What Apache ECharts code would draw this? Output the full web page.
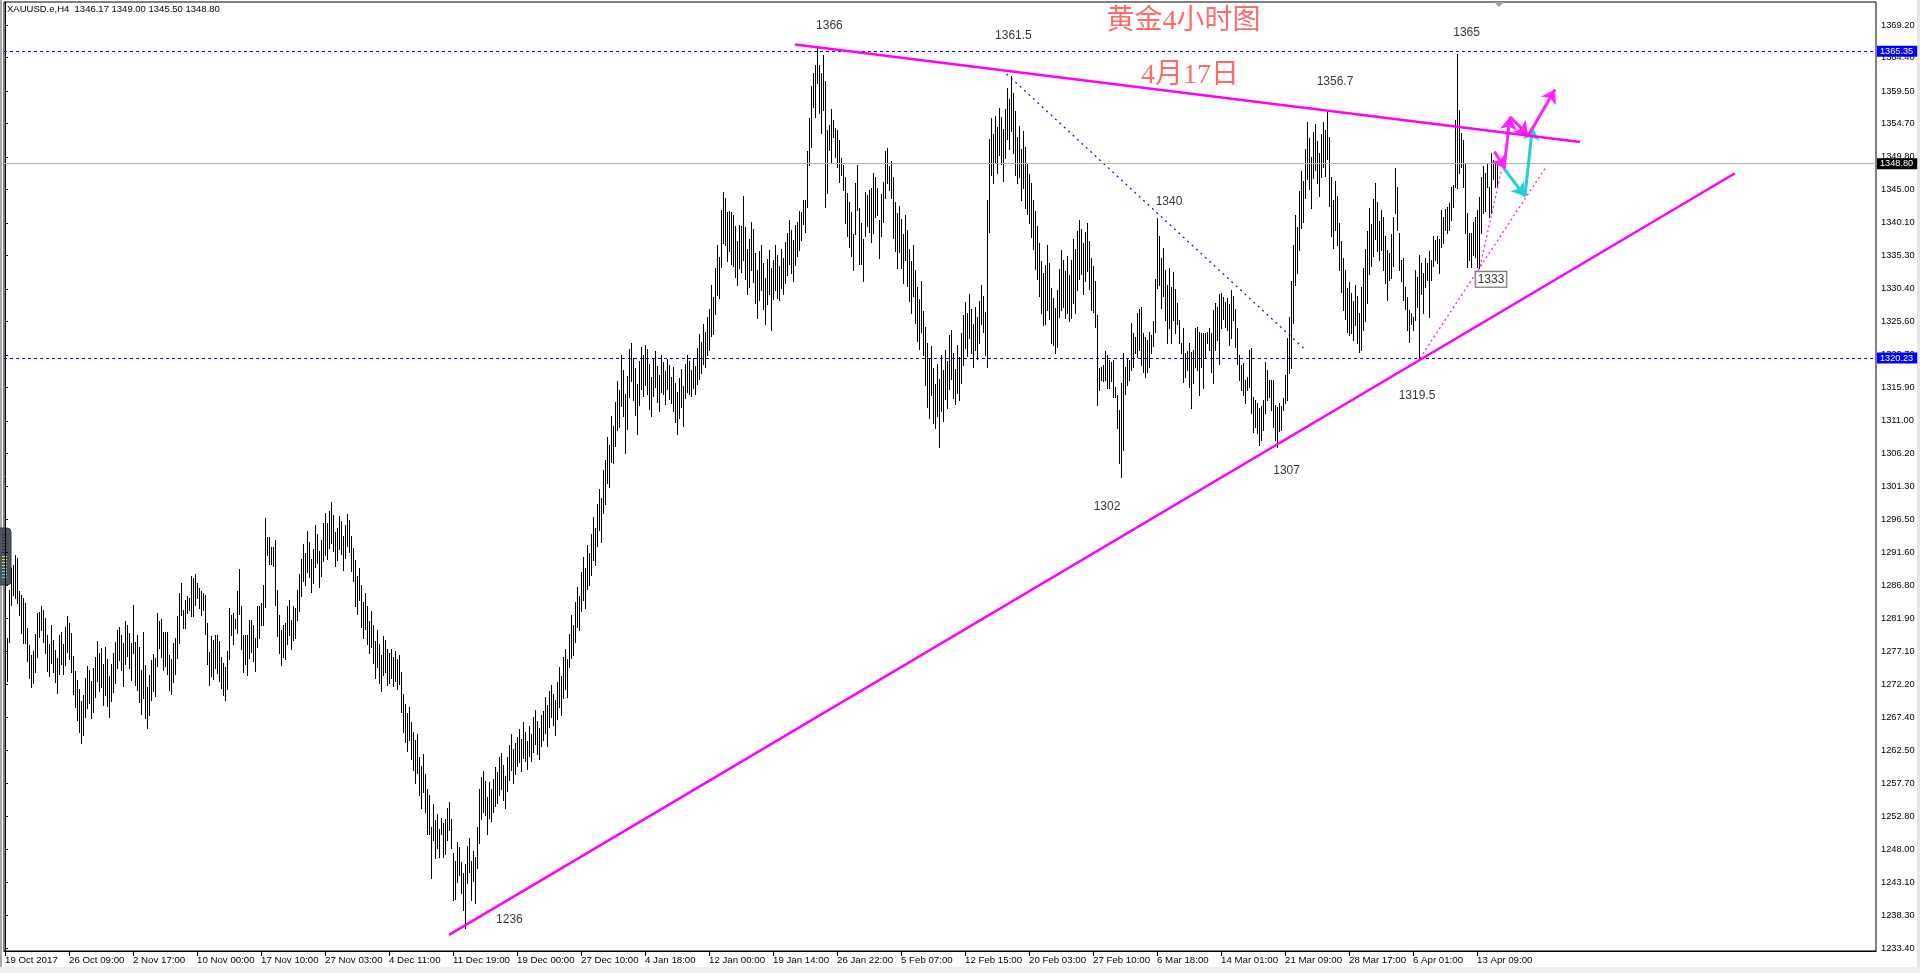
<!DOCTYPE html>
<html><head><meta charset="utf-8">
<script src="https://cdn.jsdelivr.net/npm/echarts@6/dist/echarts.min.js"></script>
<style>html,body{margin:0;padding:0;background:#fff;overflow:hidden}#c{width:1920px;height:973px}</style>
</head><body><div id="c"></div>
<script>
// ---------- axis texts ----------
const dateLabels = ['19 Oct 2017','26 Oct 09:00','2 Nov 17:00','10 Nov 00:00','17 Nov 10:00','27 Nov 03:00','4 Dec 11:00','11 Dec 19:00','19 Dec 00:00','27 Dec 10:00','4 Jan 18:00','12 Jan 00:00','19 Jan 14:00','26 Jan 22:00','5 Feb 07:00','12 Feb 15:00','20 Feb 03:00','27 Feb 10:00','6 Mar 18:00','14 Mar 01:00','21 Mar 09:00','28 Mar 17:00','6 Apr 01:00','13 Apr 09:00'];
const barsPerLabel = 32;
const priceTicks = [1369.20,1364.40,1359.50,1354.70,1349.80,1345.00,1340.10,1335.30,1330.40,1325.60,1320.70,1315.90,1311.00,1306.20,1301.30,1296.50,1291.60,1286.80,1281.90,1277.10,1272.20,1267.40,1262.50,1257.70,1252.80,1248.00,1243.10,1238.30,1233.40];
const lastBar = {open:1346.17, high:1349.00, low:1345.50, close:1348.80};
const levelHigh = 1365.35, levelSupport = 1320.23;

// ---------- H4 bars [high, low], one array per date-label block ----------
const b_19Oct = [[1281.7,1274.5],[1279.1,1272.8],[1286.1,1278.5],[1289.3,1283.9],[1289.8,1285.4],[1291.2,1285.0],[1290.8,1284.2],[1285.9,1282.4],[1285.4,1279.8],[1284.9,1278.3],[1284.2,1278.3],[1280.5,1275.6],[1278.0,1273.1],[1276.5,1271.8],[1277.2,1272.4],[1279.6,1274.0],[1282.7,1276.3],[1282.9,1279.2],[1283.7,1280.2],[1283.2,1278.4],[1282.0,1276.9],[1279.5,1274.2],[1278.1,1273.5],[1281.0,1275.4],[1278.8,1274.1],[1277.3,1272.6],[1276.1,1270.9],[1279.5,1273.8],[1279.9,1275.2],[1278.2,1273.7],[1280.7,1275.1],[1282.3,1277.0]];
const b_26Oct = [[1281.3,1275.9],[1279.8,1274.0],[1276.4,1270.8],[1274.2,1268.9],[1272.9,1267.0],[1271.5,1265.2],[1269.8,1263.6],[1270.6,1264.8],[1273.1,1267.4],[1275.0,1268.8],[1274.4,1269.5],[1272.8,1267.3],[1274.6,1268.1],[1276.2,1270.4],[1278.6,1272.7],[1276.9,1271.3],[1277.6,1271.9],[1275.3,1269.2],[1277.8,1270.6],[1276.0,1269.0],[1273.4,1267.5],[1275.2,1269.8],[1276.8,1271.1],[1278.4,1272.5],[1280.2,1274.6],[1280.7,1275.8],[1279.5,1274.3],[1278.3,1272.0],[1281.5,1275.2],[1281.0,1276.4],[1279.8,1274.7],[1278.3,1272.9]];
const b_2Nov = [[1283.9,1276.8],[1278.5,1272.1],[1279.5,1271.4],[1277.8,1269.6],[1274.3,1267.9],[1280.0,1270.2],[1275.1,1267.3],[1271.9,1265.8],[1273.6,1267.7],[1275.8,1269.9],[1276.7,1271.2],[1276.1,1270.5],[1282.7,1274.9],[1281.5,1277.6],[1281.8,1276.3],[1279.9,1274.4],[1279.9,1275.0],[1279.9,1273.8],[1276.5,1271.4],[1275.9,1270.8],[1278.3,1272.6],[1279.0,1273.7],[1282.3,1276.1],[1285.6,1278.3],[1287.1,1282.4],[1283.2,1280.5],[1284.7,1280.5],[1285.2,1282.7],[1284.9,1283.2],[1288.1,1282.3],[1287.9,1282.3],[1288.4,1283.9]];
const b_10Nov = [[1287.2,1284.9],[1286.4,1283.4],[1285.9,1282.4],[1285.7,1283.2],[1285.4,1279.6],[1281.2,1275.3],[1277.0,1272.1],[1279.3,1273.5],[1278.8,1273.0],[1279.5,1274.6],[1279.5,1273.9],[1278.6,1272.8],[1276.2,1271.7],[1275.4,1270.6],[1274.8,1269.9],[1277.1,1271.5],[1283.4,1276.0],[1282.4,1279.5],[1282.7,1278.1],[1281.9,1280.5],[1285.9,1279.8],[1289.2,1282.6],[1283.7,1277.4],[1279.5,1274.1],[1279.5,1275.2],[1279.5,1273.6],[1281.7,1276.1],[1281.7,1277.0],[1281.0,1275.7],[1279.0,1274.2],[1283.7,1277.8],[1283.7,1279.0]];
const b_17Nov = [[1284.2,1281.0],[1286.9,1281.0],[1296.7,1283.6],[1293.9,1291.3],[1293.9,1290.0],[1292.4,1290.0],[1292.4,1289.6],[1293.5,1283.9],[1286.1,1279.4],[1282.5,1276.8],[1280.2,1275.1],[1281.0,1276.3],[1281.2,1276.0],[1283.7,1278.2],[1284.7,1279.5],[1281.7,1277.5],[1283.7,1278.8],[1283.4,1279.1],[1286.1,1281.7],[1288.4,1283.0],[1290.6,1285.2],[1292.9,1287.4],[1291.5,1286.9],[1294.8,1288.7],[1293.1,1288.0],[1290.7,1285.8],[1292.2,1287.1],[1295.6,1289.5],[1294.3,1290.1],[1291.8,1286.6],[1293.5,1288.2],[1296.0,1290.4]];
const b_27Nov = [[1297.4,1291.2],[1295.9,1290.6],[1297.8,1292.3],[1299.1,1293.0],[1297.2,1291.8],[1294.6,1289.7],[1295.3,1290.5],[1297.0,1292.1],[1296.2,1291.4],[1294.1,1289.0],[1295.7,1290.8],[1297.3,1292.6],[1296.4,1291.7],[1294.0,1288.9],[1292.3,1287.4],[1290.5,1283.8],[1288.2,1282.6],[1289.4,1284.7],[1286.9,1280.6],[1284.3,1279.1],[1285.7,1280.4],[1283.8,1278.2],[1281.6,1276.9],[1283.0,1277.8],[1280.9,1275.4],[1278.6,1273.2],[1280.3,1274.8],[1278.1,1272.5],[1276.5,1271.3],[1279.4,1273.6],[1278.7,1274.0],[1277.4,1272.2]];
const b_4Dec = [[1276.8,1272.4],[1277.5,1273.1],[1276.3,1272.0],[1277.2,1272.8],[1275.9,1271.5],[1276.6,1272.3],[1274.1,1268.2],[1270.8,1265.3],[1269.4,1263.8],[1268.0,1262.5],[1268.9,1264.1],[1266.7,1261.3],[1265.2,1259.6],[1264.1,1257.8],[1264.9,1259.2],[1261.5,1255.9],[1260.3,1254.1],[1262.0,1256.4],[1259.1,1253.5],[1256.8,1250.3],[1255.9,1250.3],[1251.2,1243.8],[1254.6,1249.3],[1252.3,1246.7],[1253.1,1248.2],[1251.0,1246.9],[1252.6,1250.3],[1251.8,1246.9],[1252.4,1247.3],[1254.0,1249.3],[1254.9,1250.8],[1252.5,1248.1]];
const b_11Dec = [[1247.5,1240.5],[1246.2,1240.7],[1249.0,1243.1],[1248.3,1244.2],[1246.1,1241.5],[1244.5,1239.1],[1245.8,1236.4],[1248.4,1243.0],[1249.7,1244.7],[1246.2,1240.5],[1247.8,1243.3],[1246.9,1240.1],[1251.3,1245.2],[1256.8,1248.9],[1258.6,1252.5],[1259.5,1253.4],[1258.0,1253.0],[1255.7,1250.3],[1257.9,1252.6],[1256.9,1252.1],[1258.3,1253.5],[1260.1,1254.4],[1259.3,1254.8],[1261.6,1256.0],[1262.2,1256.9],[1260.4,1255.3],[1258.7,1254.1],[1261.5,1256.6],[1263.3,1258.2],[1264.9,1259.7],[1262.8,1257.7],[1263.6,1259.0]];
const b_19Dec = [[1264.5,1260.2],[1265.7,1260.8],[1264.2,1259.5],[1266.7,1261.4],[1265.3,1261.0],[1263.9,1259.8],[1266.1,1261.7],[1265.0,1260.9],[1267.4,1262.3],[1268.5,1263.5],[1266.9,1262.0],[1265.8,1261.3],[1267.7,1263.2],[1268.3,1264.0],[1270.4,1265.1],[1269.2,1263.1],[1271.3,1265.9],[1272.1,1267.4],[1270.8,1266.2],[1269.9,1264.8],[1272.6,1267.1],[1274.8,1268.9],[1273.5,1267.8],[1276.2,1270.3],[1277.5,1271.6],[1275.9,1270.4],[1279.6,1274.8],[1282.4,1276.1],[1281.0,1276.5],[1284.3,1278.4],[1286.5,1280.7],[1285.2,1280.2]];
const b_27Dec = [[1288.7,1283.0],[1290.9,1284.6],[1289.4,1283.5],[1292.8,1286.2],[1291.6,1286.9],[1294.4,1288.3],[1296.9,1290.5],[1295.3,1289.8],[1298.7,1292.6],[1300.9,1294.9],[1299.6,1293.1],[1303.8,1297.5],[1305.2,1298.7],[1308.6,1301.9],[1307.4,1301.2],[1311.7,1305.0],[1310.2,1304.8],[1313.8,1307.3],[1316.9,1309.6],[1315.5,1310.1],[1320.7,1313.2],[1318.4,1311.7],[1314.9,1306.3],[1317.6,1309.8],[1321.6,1314.5],[1322.5,1316.8],[1320.3,1314.1],[1318.7,1311.9],[1316.4,1309.0],[1319.8,1313.3],[1321.9,1315.6],[1320.6,1314.7]];
const b_4Jan = [[1322.1,1316.3],[1321.6,1315.0],[1319.4,1312.8],[1317.5,1311.7],[1320.2,1314.6],[1321.3,1316.0],[1319.0,1313.7],[1317.8,1312.4],[1320.7,1315.2],[1319.6,1314.9],[1318.3,1313.5],[1320.1,1315.7],[1319.2,1314.2],[1317.4,1313.6],[1318.9,1312.5],[1316.5,1310.8],[1315.2,1309.0],[1317.3,1311.4],[1318.6,1313.0],[1316.1,1310.2],[1319.4,1314.4],[1320.7,1315.3],[1319.8,1314.9],[1318.5,1314.6],[1320.2,1315.8],[1319.1,1315.0],[1321.7,1316.4],[1323.8,1317.1],[1322.6,1318.0],[1325.2,1319.3],[1324.0,1318.9],[1326.3,1320.6]];
const b_12Jan = [[1327.5,1321.4],[1330.9,1323.4],[1329.2,1323.8],[1333.4,1326.7],[1336.9,1329.5],[1335.1,1329.0],[1342.0,1333.6],[1344.7,1337.2],[1343.7,1336.8],[1341.7,1334.5],[1341.8,1335.9],[1341.7,1334.1],[1341.2,1333.8],[1339.7,1332.2],[1337.4,1331.0],[1339.8,1333.5],[1339.6,1332.9],[1344.0,1334.7],[1339.5,1331.8],[1336.3,1329.7],[1337.8,1330.6],[1340.3,1333.2],[1339.2,1331.4],[1335.6,1328.3],[1333.1,1326.1],[1335.9,1328.8],[1336.9,1330.2],[1334.2,1327.4],[1332.0,1325.3],[1334.8,1328.1],[1336.1,1329.6],[1333.5,1324.3]];
const b_19Jan = [[1334.7,1328.9],[1336.9,1330.2],[1335.4,1329.1],[1333.8,1328.8],[1336.2,1330.5],[1335.0,1329.6],[1337.3,1331.2],[1338.6,1332.4],[1340.5,1334.0],[1339.1,1332.8],[1337.6,1331.5],[1339.8,1333.9],[1340.3,1335.2],[1341.9,1336.1],[1341.7,1337.6],[1343.5,1340.0],[1343.5,1338.7],[1350.6,1342.5],[1355.5,1348.6],[1360.2,1351.3],[1362.1,1357.2],[1363.3,1355.7],[1365.8,1360.6],[1363.3,1356.3],[1362.1,1353.3],[1364.8,1356.7],[1360.9,1342.5],[1353.8,1344.5],[1354.5,1350.8],[1356.8,1348.9],[1355.2,1352.7],[1354.1,1349.8]];
const b_26Jan = [[1353.8,1348.3],[1352.3,1346.1],[1349.6,1347.1],[1348.6,1344.9],[1346.9,1340.1],[1344.5,1338.2],[1343.2,1336.5],[1341.7,1335.3],[1338.5,1333.2],[1345.9,1338.4],[1348.6,1342.0],[1342.3,1334.0],[1340.1,1334.1],[1337.8,1331.6],[1344.7,1338.2],[1344.2,1339.6],[1344.9,1338.7],[1345.2,1337.3],[1347.4,1338.6],[1346.9,1341.0],[1345.2,1341.3],[1340.5,1334.9],[1344.4,1338.1],[1346.1,1340.2],[1350.6,1343.7],[1351.1,1346.0],[1348.5,1344.9],[1349.2,1343.7],[1346.9,1337.9],[1343.1,1336.0],[1341.5,1333.4],[1342.6,1335.8]];
const b_5Feb = [[1340.7,1333.5],[1338.4,1331.2],[1341.3,1334.6],[1339.0,1330.8],[1336.2,1328.6],[1334.5,1326.9],[1336.9,1329.3],[1333.1,1325.4],[1330.7,1322.8],[1328.9,1321.5],[1331.6,1324.0],[1327.2,1320.7],[1324.8,1316.3],[1322.5,1313.0],[1320.1,1311.4],[1322.0,1314.8],[1318.7,1310.6],[1316.4,1309.9],[1319.3,1311.7],[1317.2,1307.2],[1320.7,1312.5],[1318.5,1311.0],[1321.4,1314.2],[1319.8,1312.9],[1323.6,1315.7],[1324.3,1317.2],[1321.0,1314.4],[1318.6,1313.5],[1322.2,1315.1],[1320.4,1314.0],[1323.9,1316.6],[1326.5,1319.2]];
const b_12Feb = [[1328.4,1321.7],[1326.9,1320.5],[1329.7,1323.2],[1327.5,1321.0],[1325.3,1318.9],[1327.8,1321.4],[1326.2,1320.1],[1328.6,1322.5],[1331.0,1325.3],[1329.4,1324.0],[1327.0,1320.6],[1343.5,1318.9],[1352.4,1338.7],[1355.5,1347.2],[1353.1,1346.0],[1355.8,1348.9],[1354.2,1347.5],[1357.0,1350.1],[1355.6,1348.8],[1353.9,1346.3],[1356.8,1349.7],[1359.9,1352.4],[1358.3,1351.0],[1361.7,1353.6],[1359.2,1350.4],[1356.5,1347.1],[1352.7,1345.9],[1354.3,1346.8],[1350.9,1343.5],[1353.6,1345.2],[1351.2,1342.3],[1348.7,1341.4]];
const b_20Feb = [[1347.3,1340.1],[1345.9,1338.0],[1343.4,1336.2],[1341.8,1333.3],[1339.6,1331.9],[1337.2,1329.4],[1334.5,1326.8],[1332.8,1325.1],[1333.9,1325.3],[1336.9,1327.3],[1334.2,1326.0],[1330.5,1322.4],[1329.1,1322.1],[1327.6,1320.9],[1330.3,1321.9],[1333.3,1326.3],[1336.1,1327.3],[1334.7,1327.8],[1333.0,1326.1],[1335.2,1326.8],[1332.4,1325.6],[1334.6,1326.1],[1337.8,1328.3],[1336.3,1326.8],[1338.9,1330.2],[1340.5,1331.9],[1339.2,1332.6],[1337.1,1329.7],[1338.8,1331.5],[1340.1,1333.0],[1337.5,1330.4],[1335.0,1327.3]];
const b_27Feb = [[1333.8,1327.0],[1331.5,1324.8],[1326.6,1313.3],[1318.8,1315.5],[1318.9,1317.0],[1319.2,1316.8],[1321.2,1317.0],[1320.7,1315.8],[1319.9,1315.8],[1319.7,1316.8],[1319.9,1314.5],[1316.0,1314.5],[1314.8,1310.0],[1312.6,1304.8],[1316.6,1302.7],[1321.0,1306.7],[1318.9,1315.0],[1320.1,1316.2],[1319.9,1317.0],[1325.4,1318.5],[1323.9,1318.9],[1323.3,1320.9],[1326.8,1320.4],[1327.5,1321.4],[1327.7,1319.2],[1323.9,1318.1],[1323.3,1317.4],[1322.9,1318.2],[1324.1,1318.9],[1323.6,1320.9],[1325.6,1322.0],[1331.8,1324.1]];
const b_6Mar = [[1340.8,1330.5],[1338.2,1331.0],[1334.9,1327.6],[1336.4,1329.3],[1333.2,1325.8],[1331.0,1322.4],[1333.5,1324.6],[1330.7,1322.4],[1332.9,1325.8],[1330.4,1323.9],[1328.3,1325.3],[1325.8,1322.4],[1322.4,1321.0],[1324.6,1316.7],[1320.9,1317.5],[1321.2,1318.5],[1322.4,1316.0],[1321.1,1312.9],[1321.4,1316.5],[1324.6,1318.9],[1324.8,1318.5],[1324.1,1314.8],[1323.9,1318.9],[1323.9,1315.8],[1323.9,1320.4],[1324.1,1322.4],[1324.6,1321.4],[1323.9,1318.2],[1327.3,1316.6],[1328.3,1321.4],[1327.8,1322.9],[1329.6,1319.4]];
const b_14Mar = [[1329.8,1324.6],[1329.2,1325.9],[1328.5,1324.8],[1329.0,1324.4],[1328.1,1322.1],[1330.2,1323.1],[1329.3,1325.8],[1327.5,1321.8],[1324.6,1319.3],[1320.7,1317.0],[1319.2,1315.5],[1319.5,1314.8],[1317.0,1313.6],[1317.5,1315.5],[1321.4,1316.0],[1321.7,1312.1],[1314.5,1309.4],[1314.1,1310.1],[1313.6,1309.2],[1312.9,1307.4],[1313.1,1308.2],[1314.1,1309.7],[1319.6,1312.1],[1318.5,1314.1],[1317.0,1314.5],[1317.0,1312.6],[1317.0,1310.1],[1313.3,1308.2],[1313.0,1307.1],[1313.6,1309.5],[1313.1,1309.7],[1314.3,1312.6]];
const b_21Mar = [[1317.7,1313.6],[1323.2,1314.0],[1326.3,1318.0],[1331.5,1318.8],[1336.8,1325.4],[1341.2,1331.0],[1339.5,1332.7],[1344.8,1336.1],[1347.7,1339.4],[1346.3,1340.2],[1350.9,1343.8],[1354.9,1346.5],[1352.6,1345.1],[1349.8,1342.3],[1353.5,1346.7],[1354.6,1347.9],[1352.1,1345.9],[1350.4,1344.0],[1353.2,1346.8],[1354.9,1348.3],[1353.7,1347.0],[1356.7,1349.5],[1352.8,1342.6],[1346.9,1338.2],[1343.5,1336.4],[1346.2,1339.0],[1344.0,1336.8],[1340.1,1333.2],[1337.4,1330.0],[1334.9,1327.3],[1333.2,1325.9],[1330.5,1324.1]];
const b_28Mar = [[1331.4,1323.6],[1329.8,1323.9],[1328.6,1322.9],[1331.0,1325.1],[1329.3,1322.4],[1326.8,1321.1],[1330.7,1321.4],[1333.5,1324.4],[1336.2,1325.6],[1338.9,1328.3],[1342.3,1332.6],[1340.0,1333.8],[1343.6,1335.2],[1345.9,1337.7],[1343.1,1335.9],[1340.4,1334.6],[1342.0,1336.1],[1341.0,1333.2],[1338.2,1331.2],[1336.1,1328.8],[1335.6,1331.7],[1338.5,1332.0],[1341.0,1333.7],[1348.1,1341.5],[1345.4,1339.0],[1338.6,1333.2],[1334.6,1331.5],[1334.9,1328.8],[1330.7,1327.5],[1329.2,1324.3],[1327.3,1322.6],[1326.8,1325.3]];
const b_6Apr = [[1326.3,1324.3],[1333.2,1325.8],[1332.2,1327.8],[1335.4,1320.2],[1334.2,1329.7],[1332.7,1326.8],[1334.9,1330.7],[1334.2,1331.7],[1335.9,1326.3],[1334.6,1331.7],[1338.1,1333.7],[1337.6,1334.6],[1338.1,1334.2],[1337.8,1332.7],[1342.0,1336.6],[1341.0,1337.1],[1342.2,1339.1],[1342.5,1338.6],[1343.0,1339.1],[1345.4,1340.5],[1345.7,1342.5],[1355.2,1345.4],[1365.0,1345.2],[1356.7,1347.4],[1353.3,1348.3],[1352.3,1345.4],[1348.9,1338.6],[1341.6,1333.6],[1338.6,1334.6],[1338.6,1333.6],[1340.3,1335.4],[1341.0,1335.1]];
const b_13Apr = [[1342.0,1333.6],[1343.9,1333.4],[1346.9,1338.6],[1348.4,1341.5],[1347.4,1341.8],[1348.9,1345.4],[1345.4,1341.0],[1350.4,1341.6],[1349.4,1346.5],[1348.9,1345.4],[1349.0,1345.5]];

// ---------- drawn objects (bar index, price) ----------
const resistanceLine = [[395,1366.33],[787.5,1352.0]];
const supportLine = [[222,1235.4],[865,1347.4]];
const blueDotted = [[500.8,1362.0],[649.2,1321.7]];
const pinkDotted1 = [[737.5,1333.7],[748.3,1347.9]];
const pinkDotted2 = [[707.5,1320.2],[770,1348.1]];
const magentaArrows = [[[744.7,1350.6],[750,1348.1]],[[749.5,1348.1],[752.5,1355.7]],[[752.5,1355.7],[761.7,1353.0]],[[761.7,1353.0],[775,1359.7]]];
const cyanArrows = [[[749.5,1348.1],[760,1344.0]],[[760,1344.0],[763.7,1354.2]]];
const priceNotes = [[412.2,1369.05,'1366'],[504.2,1367.7,'1361.5'],[665,1360.8,'1356.7'],[730.8,1368.0,'1365'],[582,1343.2,'1340'],[551,1298.3,'1302'],[640.8,1303.6,'1307'],[706,1314.7,'1319.5'],[252.2,1237.7,'1236']];
const boxedNote = [[743,1331.8,'1333']];
const titleNotes = [[589.2,1369.75,'黄金4小时图',28],[592.5,1361.75,'4月17日',28]];

const segments = [b_19Oct,b_26Oct,b_2Nov,b_10Nov,b_17Nov,b_27Nov,b_4Dec,b_11Dec,b_19Dec,b_27Dec,b_4Jan,b_12Jan,b_19Jan,b_26Jan,b_5Feb,b_12Feb,b_20Feb,b_27Feb,b_6Mar,b_14Mar,b_21Mar,b_28Mar,b_6Apr,b_13Apr];
const bars = [].concat(...segments);
const barData = bars.map((b,i)=>[i,b[0],b[1]]);
const labelIdx = dateLabels.map((_,k)=>k*barsPerLabel);

const FONT = '"Liberation Sans", Arial, sans-serif';
const chart = echarts.init(document.getElementById('c'), null, {renderer:'canvas'});
const seg = (pts)=>pts.map(p=>[p[0],p[1]]);
const arrowItem = (a,color)=>[{coord:a[0]},{coord:a[1],lineStyle:{color:color,width:3}}];
const boxLabel = (txt,bg)=>({show:true, position:'end', distance:1, formatter:txt, backgroundColor:bg, color:'#fff', fontSize:9.2, fontFamily:FONT, padding:[1,4,0,3], lineHeight:10});

const option = {
  animation:false,
  backgroundColor:'#ffffff',
  textStyle:{fontFamily:FONT},
  title:{text:`XAUUSD.e,H4  ${lastBar.open.toFixed(2)} ${lastBar.high.toFixed(2)} ${lastBar.low.toFixed(2)} ${lastBar.close.toFixed(2)}`,
    left:7, top:4, padding:0, textStyle:{fontSize:9.5, fontWeight:'normal', color:'#000', fontFamily:FONT}},
  grid:{left:4, top:2, right:44, bottom:22, show:true, borderColor:'#000', borderWidth:1, outerBoundsMode:'none', containLabel:false},
  xAxis:{type:'value', min:-0.5, max:935.5, splitLine:{show:false},
    axisLine:{show:true, lineStyle:{color:'#000', width:1}},
    axisTick:{show:true, length:5, lineStyle:{color:'#000'}, customValues:labelIdx},
    axisLabel:{show:true, customValues:labelIdx, align:'left', margin:4, color:'#000', fontSize:9.7, fontFamily:FONT,
      formatter:(v)=>dateLabels[Math.round(v/barsPerLabel)]||''}},
  yAxis:{type:'value', position:'right', min:1233.0235, max:1372.5824, splitLine:{show:false},
    axisLine:{show:true, lineStyle:{color:'#000', width:1}},
    axisTick:{show:true, length:3, lineStyle:{color:'#000'}, customValues:priceTicks},
    axisLabel:{show:true, customValues:priceTicks, margin:5, color:'#000', fontSize:9.3, fontFamily:FONT,
      formatter:(v)=>v.toFixed(2)}},
  series:[
    {type:'custom', name:'XAUUSD', data:barData, encode:{x:0, y:[1,2]}, silent:true, z:3, clip:true,
      renderItem:(params, api)=>{
        const i = api.value(0);
        const t = api.coord([i, api.value(1)]), b = api.coord([i, api.value(2)]);
        const x = Math.floor(t[0] + 0.01);
        const y0 = Math.round(t[1]), y1 = Math.round(b[1]);
        return {type:'rect', shape:{x:x, y:y0, width:1, height:Math.max(1, y1 - y0 + 1)}, style:{fill:'#000'}};
      }},
    {type:'line', name:'resistance', data:seg(resistanceLine), symbol:'none', silent:true, z:5,
      lineStyle:{color:'#ff00ff', width:2.5},
      markLine:{silent:true, symbol:'none', animation:false, precision:2, data:[
        {yAxis:levelHigh, lineStyle:{color:'#0000ff', type:[3,3], width:1}, label:boxLabel(levelHigh.toFixed(2),'#0000ff')},
        {yAxis:levelSupport, lineStyle:{color:'#0000ff', type:[3,3], width:1}, label:boxLabel(levelSupport.toFixed(2),'#0000ff')},
        {yAxis:lastBar.close, lineStyle:{color:'#b4b4b4', type:'solid', width:1}, label:boxLabel(lastBar.close.toFixed(2),'#000')}
      ]}},
    {type:'line', name:'support', data:seg(supportLine), symbol:'none', silent:true, z:5,
      lineStyle:{color:'#ff00ff', width:2.5}},
    {type:'line', name:'blueDotted', data:seg(blueDotted), symbol:'none', silent:true, z:4,
      lineStyle:{color:'#0000ff', width:1.2, type:[2,4]}},
    {type:'line', name:'pinkDotted1', data:seg(pinkDotted1), symbol:'none', silent:true, z:4,
      lineStyle:{color:'#ff00ff', width:1.2, type:[2,3]}},
    {type:'line', name:'pinkDotted2', data:seg(pinkDotted2), symbol:'none', silent:true, z:4,
      lineStyle:{color:'#ff00ff', width:1.2, type:[2,3]},
      markLine:{silent:true, animation:false, symbol:['none','arrow'], symbolSize:13, label:{show:false},
        lineStyle:{width:3, type:'solid'},
        data:[...cyanArrows.map(a=>arrowItem(a,'#22d0d6')), ...magentaArrows.map(a=>arrowItem(a,'#ff22ff'))]}},
    {type:'scatter', name:'notes', data:priceNotes, symbolSize:1, silent:true, z:6,
      itemStyle:{color:'rgba(0,0,0,0)'},
      label:{show:true, position:'inside', formatter:(p)=>p.value[2], color:'#000', fontSize:12, fontFamily:FONT}},
    {type:'scatter', name:'boxed', data:boxedNote, symbolSize:1, silent:true, z:6,
      itemStyle:{color:'rgba(0,0,0,0)'},
      label:{show:true, position:'inside', formatter:(p)=>p.value[2], color:'#000', fontSize:12, fontFamily:FONT,
        backgroundColor:'#fff', borderColor:'#444', borderWidth:1, padding:[2,2,1,2]}},
    {type:'scatter', name:'titles', silent:true, z:6, symbolSize:1,
      data:titleNotes.map(t=>({value:[t[0],t[1],t[2]], label:{fontSize:t[3]}})),
      itemStyle:{color:'rgba(0,0,0,0)'},
      label:{show:true, position:'inside', formatter:(p)=>p.value[2], color:'#ff4343',
        fontFamily:'"Liberation Serif", "Noto Sans CJK SC", serif'}}
  ],
  graphic:[
    {type:'rect', shape:{x:0, y:0, width:2, height:973}, style:{fill:'#a8a8a8'}, silent:true},
    {type:'rect', shape:{x:1917, y:0, width:3, height:973}, style:{fill:'#e6e6e6'}, silent:true},
    {type:'rect', shape:{x:0, y:967, width:1920, height:6}, style:{fill:'#eeeeee'}, silent:true},
    {type:'polygon', shape:{points:[[1494,2],[1504,2],[1499,7]]}, style:{fill:'#a0a0a0'}, silent:true},
    {type:'group', silent:true, children:[
      {type:'rect', shape:{x:-4, y:528, width:15, height:57, r:4}, style:{fill:'#4e535e', stroke:'#353840', lineWidth:1}},
      {type:'rect', shape:{x:2, y:534, width:5, height:1}, style:{fill:'#2b2e34'}},
      {type:'rect', shape:{x:2, y:537, width:5, height:1}, style:{fill:'#2b2e34'}},
      {type:'rect', shape:{x:2, y:540, width:5, height:1}, style:{fill:'#2b2e34'}},
      {type:'rect', shape:{x:2, y:543, width:5, height:1}, style:{fill:'#2b2e34'}},
      {type:'rect', shape:{x:2, y:546, width:5, height:1}, style:{fill:'#2b2e34'}},
      {type:'rect', shape:{x:2, y:549, width:5, height:1}, style:{fill:'#2b2e34'}},
      {type:'rect', shape:{x:2, y:552, width:5, height:1}, style:{fill:'#2b2e34'}},
      {type:'rect', shape:{x:2, y:556, width:5, height:1}, style:{fill:'#e6e046'}},
      {type:'rect', shape:{x:2, y:559, width:5, height:1}, style:{fill:'#e6e046'}},
      {type:'rect', shape:{x:2, y:562, width:5, height:1}, style:{fill:'#c8e05a'}},
      {type:'rect', shape:{x:2, y:565, width:5, height:1}, style:{fill:'#a0e070'}},
      {type:'rect', shape:{x:2, y:568, width:5, height:1}, style:{fill:'#60e0b0'}},
      {type:'rect', shape:{x:2, y:571, width:5, height:1}, style:{fill:'#48e0d0'}},
      {type:'rect', shape:{x:2, y:574, width:5, height:1}, style:{fill:'#48e0d0'}},
      {type:'rect', shape:{x:2, y:577, width:5, height:1}, style:{fill:'#48e0d0'}}
    ]}
  ]
};
chart.setOption(option);
</script>
</body></html>
